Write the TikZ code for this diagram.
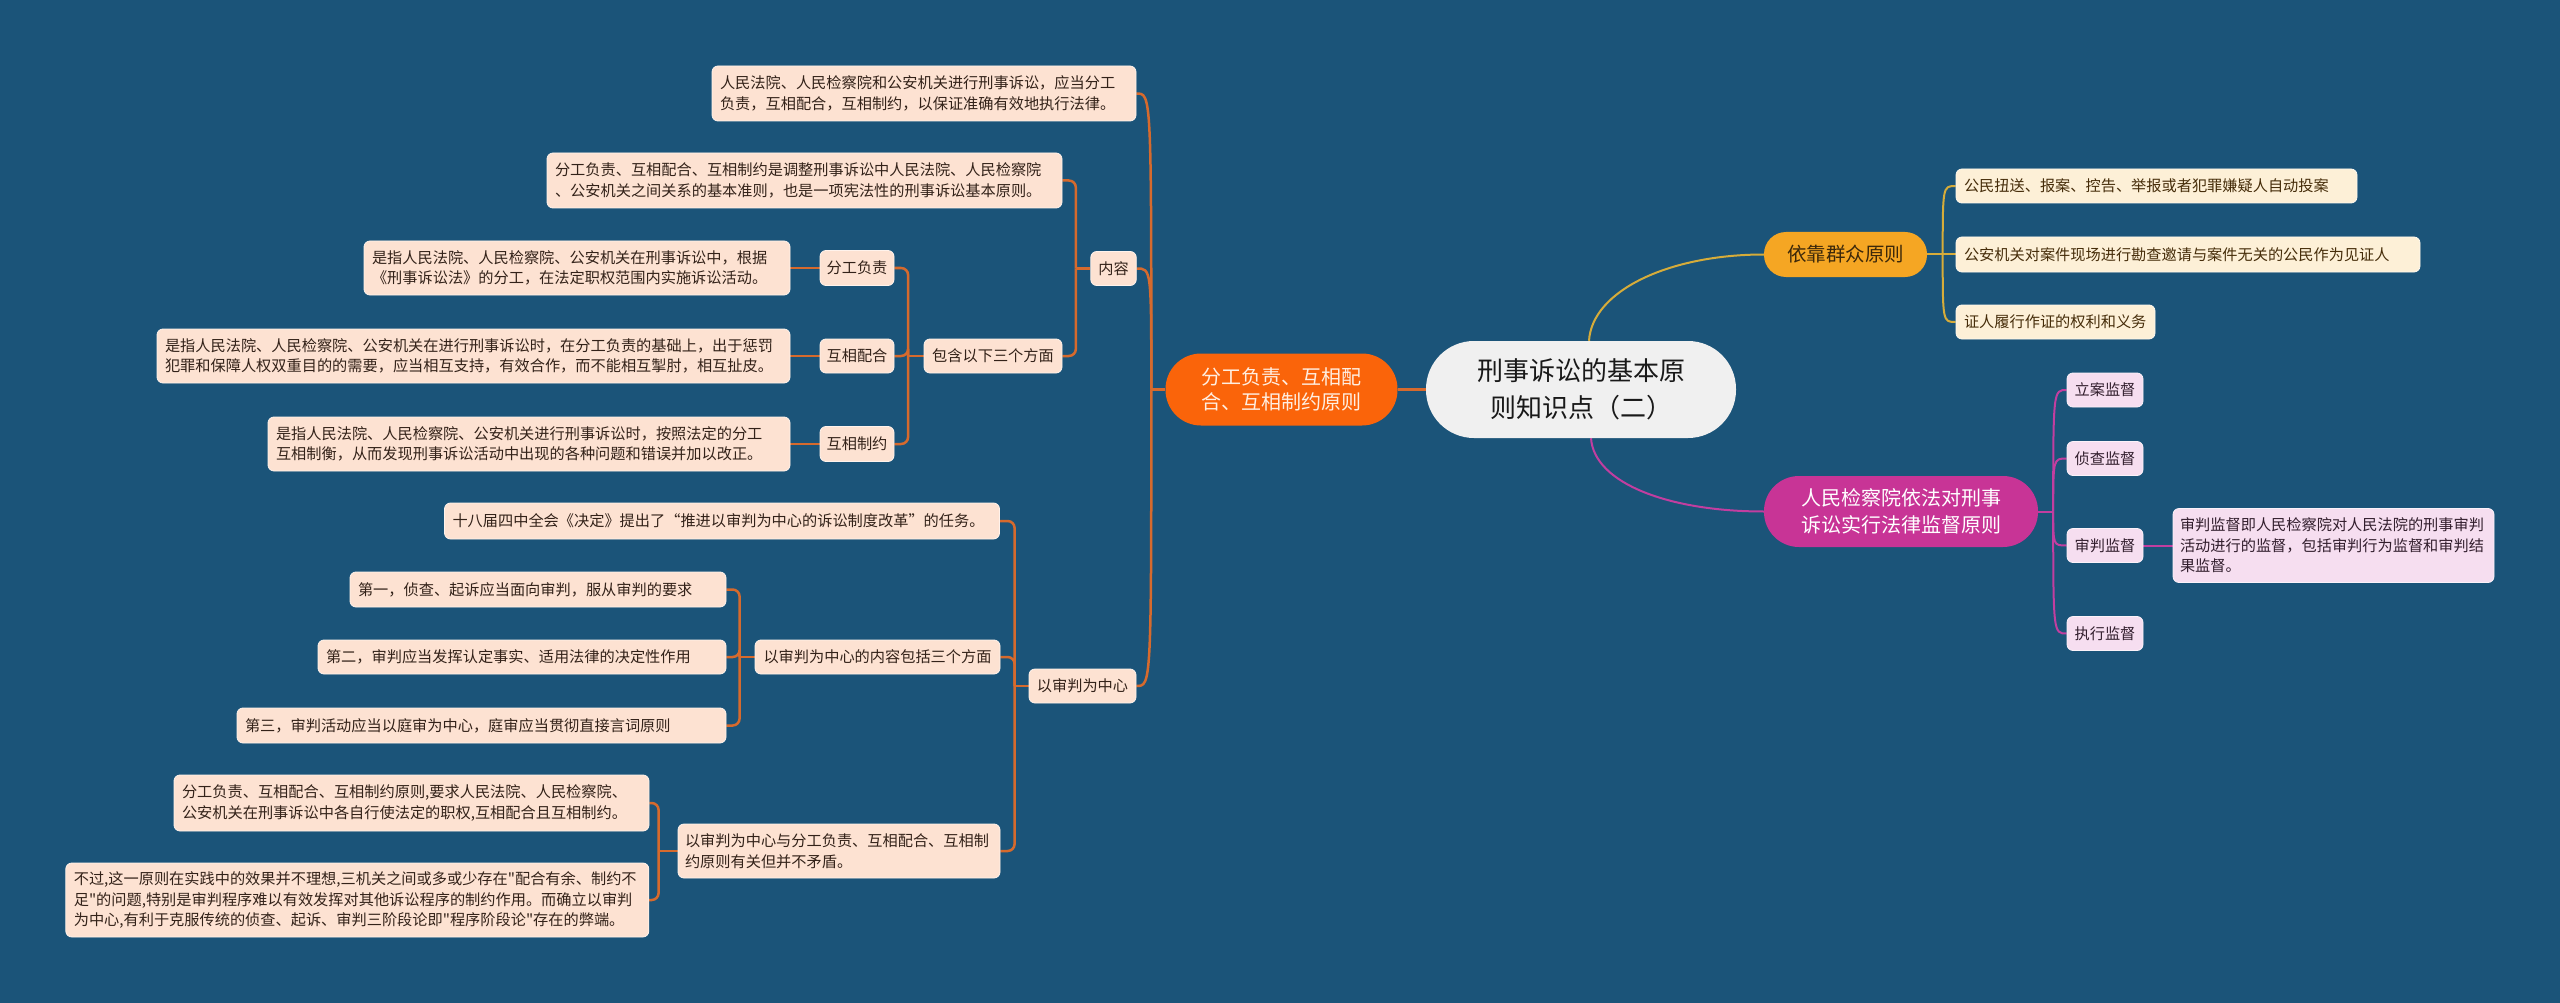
\documentclass[tikz,border=0pt]{standalone}
\usepackage{fontspec}
\newfontfamily\cjk{Noto Sans CJK SC}
\definecolor{bgc}{RGB}{27,84,121}
\definecolor{ocol}{RGB}{214,106,45}
\definecolor{opill}{RGB}{250,100,10}
\definecolor{ptext}{RGB}{255,238,225}
\definecolor{peach}{RGB}{253,226,210}
\definecolor{peachb}{RGB}{255,243,236}
\definecolor{ltext}{RGB}{51,34,25}
\definecolor{cfill}{RGB}{240,240,240}
\definecolor{ctext}{RGB}{25,25,25}
\definecolor{ycol}{RGB}{214,172,58}
\definecolor{ypill}{RGB}{245,166,35}
\definecolor{yptext}{RGB}{60,40,10}
\definecolor{yleaf}{RGB}{253,240,215}
\definecolor{ytext}{RGB}{70,45,10}
\definecolor{mcol}{RGB}{194,62,160}
\definecolor{mpill}{RGB}{200,52,150}
\definecolor{mleaf}{RGB}{246,222,240}
\definecolor{mtext}{RGB}{50,30,45}
\pgfdeclarelayer{bglayer}
\pgfdeclarelayer{linelayer}
\pgfsetlayers{bglayer,linelayer,main}
\begin{document}
\begin{tikzpicture}[x=1pt,y=-1pt,
  base/.style={rectangle, inner ysep=0pt, font=\cjk\fontsize{15.2}{20.5}\selectfont},
  oleaf/.style={base, rounded corners=6pt, fill=peach, draw=peachb, line width=0.8pt, text=ltext},
  yleafs/.style={base, rounded corners=6pt, fill=yleaf, draw=white!60!yleaf, line width=0.8pt, text=ytext},
  mleafs/.style={base, rounded corners=6pt, fill=mleaf, draw=white!60!mleaf, line width=0.8pt, text=mtext},
  one/.style={inner xsep=0pt, align=center},
  multi/.style={inner xsep=8pt, align=left},
  pill/.style={rectangle, inner sep=0pt, align=center},
  oline/.style={draw=ocol, line width=2.5pt},
  yline/.style={draw=ycol, line width=2pt},
  mline/.style={draw=mcol, line width=2pt}]

\begin{pgfonlayer}{bglayer}
\fill[bgc] (0,0) rectangle (2560,1003);
\end{pgfonlayer}
\useasboundingbox (0,0) rectangle (2560,1003);

% central and main branches
\node[pill, fill=cfill, text=ctext, font=\cjk\fontsize{26}{37}\selectfont,
  minimum width=310pt, minimum height=97pt, rounded corners=48pt] (C) at (1581,389.5)
  {刑事诉讼的基本原\\则知识点（二）};
\node[pill, fill=opill, text=ptext, font=\cjk\fontsize{20}{24.5}\selectfont,
  minimum width=232pt, minimum height=72pt, rounded corners=35.5pt] (P) at (1281.5,389.5)
  {分工负责、互相配\\合、互相制约原则};
\node[pill, fill=ypill, text=yptext, font=\cjk\fontsize{19.5}{24}\selectfont,
  minimum width=163pt, minimum height=45pt, rounded corners=22pt] (Y) at (1845.5,254.5)
  {依靠群众原则};
\node[pill, fill=mpill, text=white, font=\cjk\fontsize{20}{26.5}\selectfont,
  minimum width=274pt, minimum height=71pt, rounded corners=35pt] (M) at (1901,511.5)
  {人民检察院依法对刑事\\诉讼实行法律监督原则};

% left subtree: 内容
\node[oleaf, multi, text width=408pt, minimum height=55pt] (A1) at (924,93.5)
  {人民法院、人民检察院和公安机关进行刑事诉讼，应当分工\\负责，互相配合，互相制约，以保证准确有效地执行法律。};
\node[oleaf, one, minimum width=45.5pt, minimum height=34pt] (N) at (1113.5,268.5) {内容};
\node[oleaf, multi, text width=499pt, minimum height=55pt] (A2) at (804.5,180.5)
  {分工负责、互相配合、互相制约是调整刑事诉讼中人民法院、人民检察院\\、公安机关之间关系的基本准则，也是一项宪法性的刑事诉讼基本原则。};
\node[oleaf, one, minimum width=138pt, minimum height=34pt] (B) at (993,356) {包含以下三个方面};
\node[oleaf, one, minimum width=74pt, minimum height=35pt] (L1) at (857,268) {分工负责};
\node[oleaf, one, minimum width=74pt, minimum height=34pt] (L2) at (857,356) {互相配合};
\node[oleaf, one, minimum width=74pt, minimum height=35pt] (L3) at (857,444) {互相制约};
\node[oleaf, multi, text width=410pt, minimum height=54pt] (D1) at (577,268)
  {是指人民法院、人民检察院、公安机关在刑事诉讼中，根据\\《刑事诉讼法》的分工，在法定职权范围内实施诉讼活动。};
\node[oleaf, multi, text width=617pt, minimum height=54pt] (D2) at (473.5,356)
  {是指人民法院、人民检察院、公安机关在进行刑事诉讼时，在分工负责的基础上，出于惩罚\\犯罪和保障人权双重目的的需要，应当相互支持，有效合作，而不能相互掣肘，相互扯皮。};
\node[oleaf, multi, text width=506pt, minimum height=54pt] (D3) at (529,444)
  {是指人民法院、人民检察院、公安机关进行刑事诉讼时，按照法定的分工\\互相制衡，从而发现刑事诉讼活动中出现的各种问题和错误并加以改正。};

% left subtree: 以审判为中心
\node[oleaf, one, minimum width=107pt, minimum height=34pt] (S) at (1082.5,686) {以审判为中心};
\node[oleaf, multi, text width=539pt, minimum height=36pt] (S1) at (722,521)
  {十八届四中全会《决定》提出了“推进以审判为中心的诉讼制度改革”的任务。};
\node[oleaf, one, minimum width=245pt, minimum height=34pt] (S2) at (877.5,657) {以审判为中心的内容包括三个方面};
\node[oleaf, multi, text width=360pt, minimum height=35pt] (T1) at (538,589.5)
  {第一，侦查、起诉应当面向审判，服从审判的要求};
\node[oleaf, multi, text width=392pt, minimum height=34pt] (T2) at (522,657)
  {第二，审判应当发挥认定事实、适用法律的决定性作用};
\node[oleaf, multi, text width=473pt, minimum height=35pt] (T3) at (481.5,725.5)
  {第三，审判活动应当以庭审为中心，庭审应当贯彻直接言词原则};
\node[oleaf, multi, inner xsep=7pt, text width=308pt, minimum height=54pt] (S3) at (839,851)
  {以审判为中心与分工负责、互相配合、互相制\\约原则有关但并不矛盾。};
\node[oleaf, multi, text width=459pt, minimum height=56pt] (U1) at (411.5,803)
  {分工负责、互相配合、互相制约原则,要求人民法院、人民检察院、\\公安机关在刑事诉讼中各自行使法定的职权,互相配合且互相制约。};
\node[oleaf, multi, text width=567pt, minimum height=74pt] (U2) at (357.3,900)
  {不过,这一原则在实践中的效果并不理想,三机关之间或多或少存在"配合有余、制约不\\足"的问题,特别是审判程序难以有效发挥对其他诉讼程序的制约作用。而确立以审判\\为中心,有利于克服传统的侦查、起诉、审判三阶段论即"程序阶段论"存在的弊端。};

% right: 依靠群众原则
\node[yleafs, multi, text width=385pt, minimum height=34pt] (Y1) at (2156.5,186)
  {公民扭送、报案、控告、举报或者犯罪嫌疑人自动投案};
\node[yleafs, multi, text width=448pt, minimum height=35pt] (Y2) at (2188,254.5)
  {公安机关对案件现场进行勘查邀请与案件无关的公民作为见证人};
\node[yleafs, multi, text width=183pt, minimum height=34pt] (Y3) at (2055.5,322)
  {证人履行作证的权利和义务};

% right: 监督
\node[mleafs, one, minimum width=76pt, minimum height=34pt] (M1) at (2105,390) {立案监督};
\node[mleafs, one, minimum width=76pt, minimum height=34pt] (M2) at (2105,458.5) {侦查监督};
\node[mleafs, one, minimum width=76pt, minimum height=34pt] (M3) at (2105,545.5) {审判监督};
\node[mleafs, one, minimum width=76pt, minimum height=34pt] (M4) at (2105,633.5) {执行监督};
\node[mleafs, multi, inner xsep=7pt, text width=307pt, minimum height=74pt] (M3D) at (2333.5,545.5)
  {审判监督即人民检察院对人民法院的刑事审判\\活动进行的监督，包括审判行为监督和审判结\\果监督。};

% junction coordinates
\coordinate (jP) at ([xshift=-14pt]P.west);
\coordinate (jN) at ([xshift=-14.5pt]N.west);
\coordinate (jB) at ([xshift=-15.5pt]B.west);
\coordinate (jS) at ([xshift=-14pt]S.west);
\coordinate (jS2) at ([xshift=-15pt]S2.west);
\coordinate (jS3) at ([xshift=-19pt]S3.west);
\coordinate (jY) at ([xshift=15.5pt]Y.east);
\coordinate (jM) at ([xshift=15pt]M.east);

\begin{pgfonlayer}{linelayer}
\draw[oline] (C.west) -- (P.east);
\draw[oline] (P.west) -- (jP);
\foreach \n in {A1,N,S}
  \draw[oline] (jP) .. controls (jP |- \n.east) and (jP |- \n.east) .. (\n.east);
\draw[oline] (N.west) -- (jN);
\foreach \n in {A2,B}
  \draw[oline, rounded corners=7pt] (jN) |- (\n.east);
\draw[oline] (B.west) -- (jB);
\foreach \n in {L1,L2,L3}
  \draw[oline, rounded corners=7pt] (jB) |- (\n.east);
\draw[oline] (L1.west) -- (D1.east);
\draw[oline] (L2.west) -- (D2.east);
\draw[oline] (L3.west) -- (D3.east);
\draw[oline] (S.west) -- (jS);
\foreach \n in {S1,S2,S3}
  \draw[oline, rounded corners=7pt] (jS) |- (\n.east);
\draw[oline] (S2.west) -- (jS2);
\foreach \n in {T1,T2,T3}
  \draw[oline, rounded corners=7pt] (jS2) |- (\n.east);
\draw[oline] (S3.west) -- (jS3);
\foreach \n in {U1,U2}
  \draw[oline, rounded corners=7pt] (jS3) |- (\n.east);
% yellow
\draw[yline] ([xshift=8pt]C.north) .. controls +(3,-50) and +(-95,0) .. (Y.west);
\draw[yline] (Y.east) -- (jY);
\foreach \n in {Y1,Y2,Y3}
  \draw[yline] (jY) .. controls (jY |- \n.west) and (jY |- \n.west) .. (\n.west);
% magenta
\draw[mline] ([xshift=10pt]C.south) .. controls +(3,45) and +(-95,0) .. (M.west);
\draw[mline] (M.east) -- (jM);
\foreach \n in {M1,M2,M3,M4}
  \draw[mline] (jM) .. controls (jM |- \n.west) and (jM |- \n.west) .. (\n.west);
\draw[mline] (M3.east) -- (M3D.west);
\end{pgfonlayer}
\end{tikzpicture}
\end{document}
